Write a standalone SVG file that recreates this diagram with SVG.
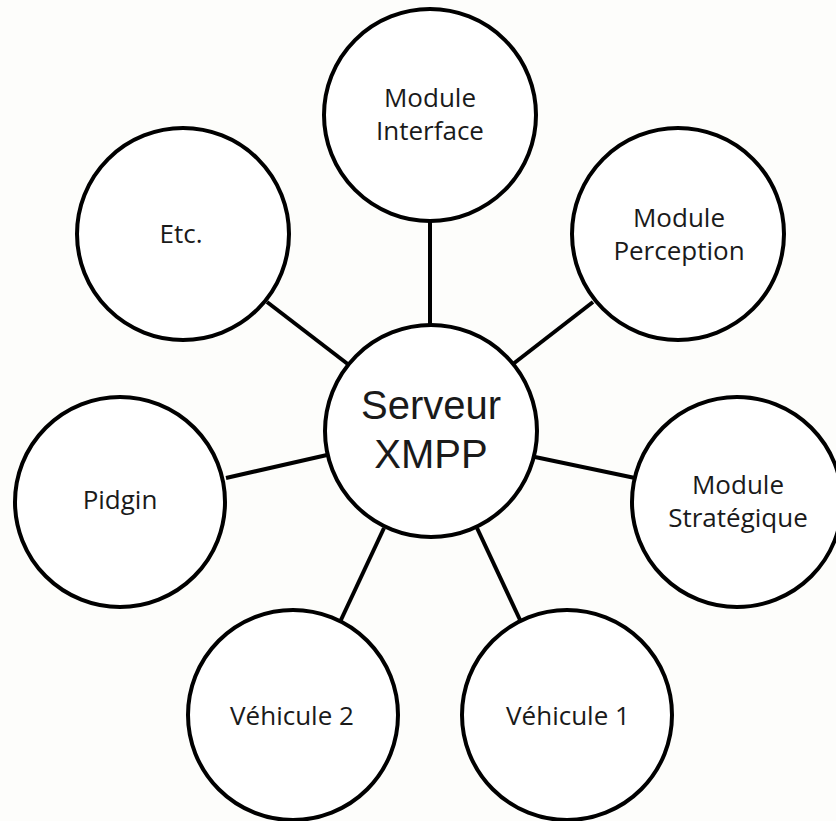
<svg xmlns="http://www.w3.org/2000/svg" width="836" height="821" viewBox="0 0 836 821">
  <style>
    .node circle { fill: #ffffff; stroke: #000000; stroke-width: 4; }
    .conn line { stroke: #000000; stroke-width: 4; stroke-linecap: butt; }
    text { font-family: "Open Sans", "Noto Sans", "Liberation Sans", sans-serif; fill: #1a1a1a; text-anchor: middle; font-size: 26px; }
    .big { font-family: "Liberation Sans", "Open Sans", sans-serif; font-size: 40px; }
  </style>
  <rect x="0" y="0" width="836" height="821" fill="#fdfdfb"/>
  <g id="connectors" class="conn">
    <line x1="430" y1="221" x2="430" y2="327"/>
    <line x1="267" y1="302" x2="349" y2="365"/>
    <line x1="593" y1="302" x2="513" y2="364"/>
    <line x1="226" y1="478" x2="327" y2="455"/>
    <line x1="535" y1="457" x2="635" y2="478"/>
    <line x1="384" y1="528" x2="340" y2="622"/>
    <line x1="477" y1="528" x2="521" y2="622"/>
  </g>
  <g id="serveur" class="node">
    <circle cx="431" cy="431" r="106"/>
    <text class="big" x="431" y="419">Serveur</text>
    <text class="big" x="431" y="468">XMPP</text>
  </g>
  <g id="interface" class="node">
    <circle cx="430" cy="115" r="106"/>
    <text x="430" y="107">Module</text>
    <text x="430" y="140">Interface</text>
  </g>
  <g id="etc" class="node">
    <circle cx="183" cy="234" r="106"/>
    <text x="181" y="243">Etc.</text>
  </g>
  <g id="perception" class="node">
    <circle cx="678" cy="234" r="106"/>
    <text x="679" y="227">Module</text>
    <text x="679" y="260">Perception</text>
  </g>
  <g id="pidgin" class="node">
    <circle cx="120" cy="502" r="105"/>
    <text x="120" y="509">Pidgin</text>
  </g>
  <g id="strategique" class="node">
    <circle cx="737" cy="502" r="105"/>
    <text x="738" y="494">Module</text>
    <text x="738" y="527">Stratégique</text>
  </g>
  <g id="vehicule2" class="node">
    <circle cx="293" cy="715" r="105"/>
    <text x="292" y="725">Véhicule 2</text>
  </g>
  <g id="vehicule1" class="node">
    <circle cx="567" cy="715" r="105"/>
    <text x="568" y="725">Véhicule 1</text>
  </g>
</svg>
